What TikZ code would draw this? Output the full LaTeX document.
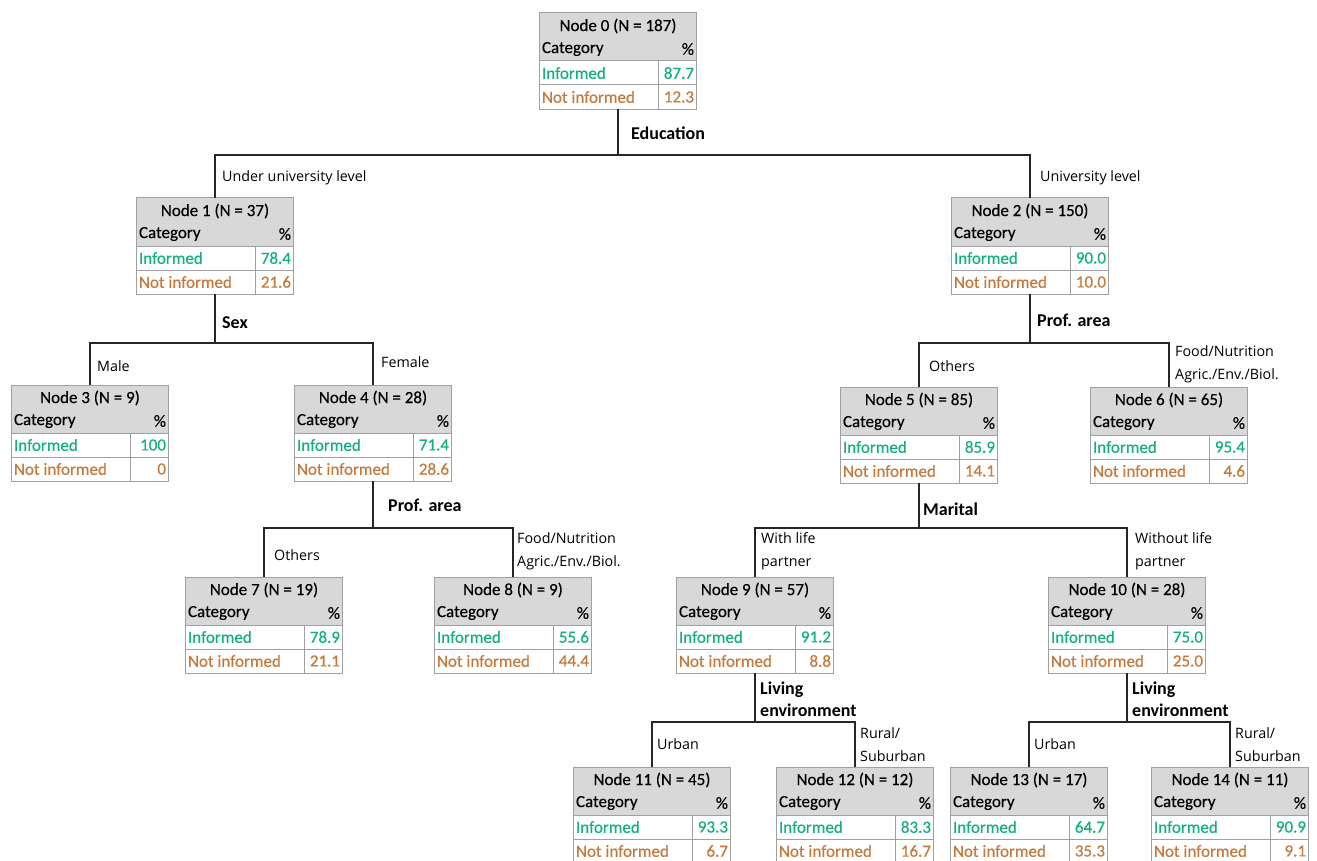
\documentclass[tikz,border=0pt]{standalone}
\usepackage{fontspec}
\usepackage{xcolor}
\usepackage{tikz}
\setmainfont{Carlito}
\newfontfamily\cellfont{Carlito}[FakeBold=0.35]
\newfontfamily\branchfont{Open Sans}
\definecolor{trgreen}{HTML}{12B07C}
\definecolor{trorange}{HTML}{C47A3C}
\definecolor{trgray}{HTML}{D8D8D8}
\definecolor{trline}{HTML}{A0A0A0}

% one tree node: name, x, top, title, informed, not informed
\newcommand{\catnode}[6]{%
  \node[catbox] (#1) at (#2,#3) {};
  \fill[trgray] (#1.north west) rectangle ([yshift=-48pt]#1.north east);
  \draw[trline] ([yshift=-48pt]#1.north west) -- ([yshift=-48pt]#1.north east);
  \draw[trline] ([yshift=-72pt]#1.north west) -- ([yshift=-72pt]#1.north east);
  \draw[trline] ([xshift=-38pt,yshift=-48pt]#1.north east) -- ([xshift=-38pt]#1.south east);
  \draw[trline] (#1.north west) rectangle (#1.south east);
  \node[celltext] (#1t) at ([yshift=-13pt]#1.north) {#4};
  \node[celltext, anchor=west] (#1c) at ([yshift=-36pt]#1.north west) {Category};
  \node[celltext, anchor=east] (#1p) at ([yshift=-36pt]#1.north east) {\%};
  \node[celltext, anchor=west, text=trgreen] (#1i) at ([yshift=-60pt]#1.north west) {Informed};
  \node[celltext, anchor=east, text=trgreen] (#1iv) at ([yshift=-60pt]#1.north east) {#5};
  \node[celltext, anchor=west, text=trorange] (#1n) at ([yshift=-84pt]#1.north west) {Not informed};
  \node[celltext, anchor=east, text=trorange] (#1nv) at ([yshift=-84pt]#1.north east) {#6};
}

\begin{document}
\begin{tikzpicture}[x=1pt, y=-1pt,
  catbox/.style={rectangle, fill=white, minimum width=156pt, minimum height=96pt, inner sep=0pt, anchor=north},
  celltext/.style={inner sep=2pt, font=\cellfont\fontsize{17}{20}\selectfont},
  trline/.style={draw=trline, line width=1pt},
  edge/.style={draw=black!85, line width=1.3pt},
  splitlbl/.style={anchor=west, inner sep=0pt, align=left, font=\fontsize{18}{22}\selectfont\bfseries},
  branchlbl/.style={anchor=west, inner sep=0pt, align=left, font=\branchfont\fontsize{14.3}{23}\selectfont}]
  \path[use as bounding box, fill=white] (0,0) rectangle (1317,861);

  \catnode{n0}{618}{13}{Node 0 (N = 187)}{87.7}{12.3}
  \catnode{n1}{215}{198}{Node 1 (N = 37)}{78.4}{21.6}
  \catnode{n2}{1030}{198}{Node 2 (N = 150)}{90.0}{10.0}
  \catnode{n3}{90}{385}{Node 3 (N = 9)}{100}{0}
  \catnode{n4}{373}{385}{Node 4 (N = 28)}{71.4}{28.6}
  \catnode{n5}{919}{387}{Node 5 (N = 85)}{85.9}{14.1}
  \catnode{n6}{1169}{387}{Node 6 (N = 65)}{95.4}{4.6}
  \catnode{n7}{264}{577}{Node 7 (N = 19)}{78.9}{21.1}
  \catnode{n8}{513}{577}{Node 8 (N = 9)}{55.6}{44.4}
  \catnode{n9}{755}{577}{Node 9 (N = 57)}{91.2}{8.8}
  \catnode{n10}{1127}{577}{Node 10 (N = 28)}{75.0}{25.0}
  \catnode{n11}{652}{767}{Node 11 (N = 45)}{93.3}{6.7}
  \catnode{n12}{855}{767}{Node 12 (N = 12)}{83.3}{16.7}
  \catnode{n13}{1029}{767}{Node 13 (N = 17)}{64.7}{35.3}
  \catnode{n14}{1230}{767}{Node 14 (N = 11)}{90.9}{9.1}

  % split points
  \coordinate (b0) at (n0.south |- 0,155);
  \coordinate (b1) at (n1.south |- 0,343);
  \coordinate (b2) at (n2.south |- 0,343);
  \coordinate (b4) at (n4.south |- 0,528);
  \coordinate (b5) at (n5.south |- 0,528);
  \coordinate (b9) at (n9.south |- 0,722);
  \coordinate (b10) at (n10.south |- 0,722);

  \draw[edge] (n0.south) -- (b0) -| (n1.north);
  \draw[edge] (b0) -| (n2.north);
  \draw[edge] (n1.south) -- (b1) -| (n3.north);
  \draw[edge] (b1) -| (n4.north);
  \draw[edge] (n2.south) -- (b2) -| (n5.north);
  \draw[edge] (b2) -| (n6.north);
  \draw[edge] (n4.south) -- (b4) -| (n7.north);
  \draw[edge] (b4) -| (n8.north);
  \draw[edge] (n5.south) -- (b5) -| (n9.north);
  \draw[edge] (b5) -| (n10.north);
  \draw[edge] (n9.south) -- (b9) -| (n11.north);
  \draw[edge] (b9) -| (n12.north);
  \draw[edge] (n10.south) -- (b10) -| (n13.north);
  \draw[edge] (b10) -| (n14.north);

  % split variables
  \node[splitlbl] (s0) at ([xshift=13pt,yshift=22pt]b0) {Education};
  \node[splitlbl] (s1) at ([xshift=7pt,yshift=20pt]b1) {Sex};
  \node[splitlbl] (s2) at ([xshift=7pt,yshift=23pt]b2) {Prof. area};
  \node[splitlbl] (s4) at ([xshift=15pt,yshift=23pt]b4) {Prof. area};
  \node[splitlbl] (s5) at ([xshift=4pt,yshift=19pt]b5) {Marital};
  \node[splitlbl] (s9) at ([xshift=5pt,yshift=23pt]b9) {Living\\environment};
  \node[splitlbl] (s10) at ([xshift=5pt,yshift=23pt]b10) {Living\\environment};

  % branch labels
  \node[branchlbl] (e1) at ([xshift=7pt,yshift=20pt]n1.north) {Under university level};
  \node[branchlbl] (e2) at ([xshift=10pt,yshift=20pt]n2.north) {University level};
  \node[branchlbl] (e3) at ([xshift=7pt,yshift=19pt]n3.north) {Male};
  \node[branchlbl] (e4) at ([xshift=8pt,yshift=23pt]n4.north) {Female};
  \node[branchlbl] (e5) at ([xshift=10pt,yshift=21pt]n5.north) {Others};
  \node[branchlbl] (e6) at ([xshift=6pt,yshift=23pt]n6.north) {Food/Nutrition\\Agric./Env./Biol.};
  \node[branchlbl] (e7) at ([xshift=10pt,yshift=22pt]n7.north) {Others};
  \node[branchlbl] (e8) at ([xshift=4pt,yshift=26pt]n8.north) {Food/Nutrition\\Agric./Env./Biol.};
  \node[branchlbl] (e9) at ([xshift=6pt,yshift=26pt]n9.north) {With life\\partner};
  \node[branchlbl] (e10) at ([xshift=8pt,yshift=26pt]n10.north) {Without life\\partner};
  \node[branchlbl] (e11) at ([xshift=5pt,yshift=23pt]n11.north) {Urban};
  \node[branchlbl] (e12) at ([xshift=5pt,yshift=22pt]n12.north) {Rural/\\Suburban};
  \node[branchlbl] (e13) at ([xshift=5pt,yshift=23pt]n13.north) {Urban};
  \node[branchlbl] (e14) at ([xshift=5pt,yshift=22pt]n14.north) {Rural/\\Suburban};
\end{tikzpicture}
\end{document}
